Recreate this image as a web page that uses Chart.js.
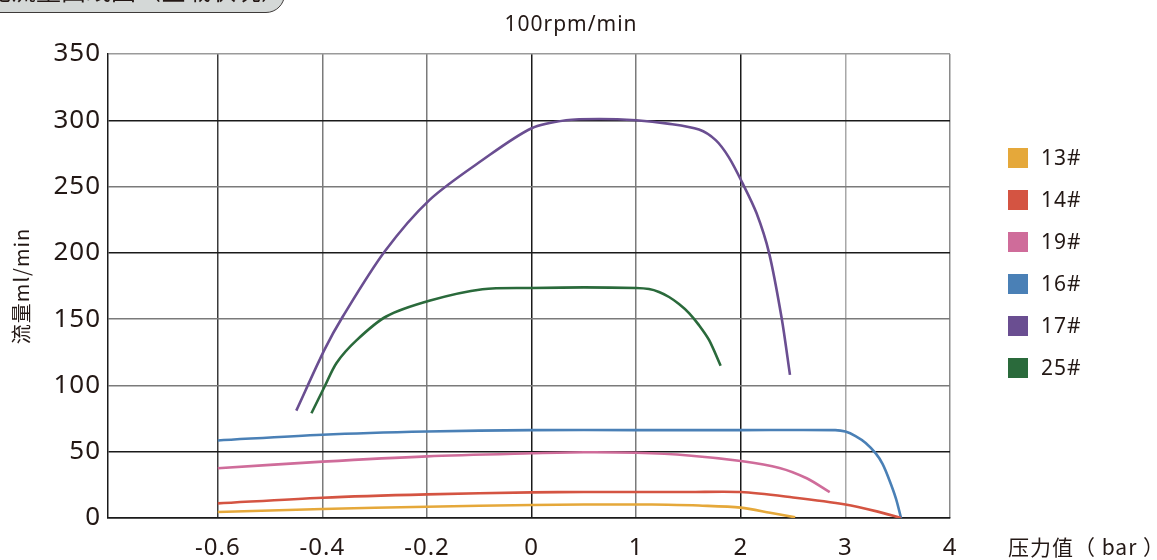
<!DOCTYPE html>
<html>
<head>
<meta charset="utf-8">
<script src="https://cdn.jsdelivr.net/npm/chart.js@4.4.1/dist/chart.umd.min.js"></script>
<style>
  html, body { margin: 0; padding: 0; background: #ffffff; overflow: hidden; }
  #wrap { position: relative; width: 1157px; height: 560px; }
  #chart { position: absolute; left: 0; top: 0; width: 1157px; height: 560px; }
  #heading {
    position: absolute; left: -40px; top: -25px; width: 325px; height: 38px;
    background: #d4d8d7; border: 1.5px solid #3e3a39; border-radius: 0 20px 20px 0;
    box-sizing: border-box; overflow: hidden; z-index: 2;
    font-family: "Noto Sans CJK SC", sans-serif; font-size: 25px; color: #231815;
    white-space: nowrap; text-align: right; padding-right: 12px; line-height: 27px;
  }
</style>
</head>
<body>
<div id="wrap">
  <div id="heading">性能流量曲线图（空载状况）</div>
  <canvas id="chart" width="1157" height="560"></canvas>
</div>
<script>
// ---- data (pressure in bar, flow in ml/min) ----
const seriesNames = ['13#', '14#', '19#', '16#', '17#', '25#'];
const seriesColors = ['#e5a83a', '#d45442', '#cf6c9a', '#4a80b6', '#6a4e91', '#2a6a3b'];

const p13 = [-0.6, -0.4, -0.2, 0, 0.5, 1, 1.3, 1.6, 2.0, 2.28, 2.52];
const q13 = [4.5, 6.8, 8.5, 9.8, 10.2, 10.2, 10.0, 9.4, 7.8, 4.0, 0.5];

const p14 = [-0.6, -0.4, -0.2, 0, 0.5, 1, 1.5, 2.0, 2.5, 3.0, 3.3, 3.53];
const q14 = [11, 15.3, 17.8, 19.3, 19.6, 19.6, 19.6, 19.6, 15.5, 10.2, 5.0, 0];

const p19 = [-0.6, -0.4, -0.2, 0, 0.5, 1, 1.5, 2.0, 2.37, 2.63, 2.85];
const q19 = [37.5, 42.5, 46.5, 48.8, 49.6, 49.2, 47.2, 43.0, 37.8, 30.0, 19.5];

const p16 = [-0.6, -0.4, -0.2, 0, 1, 2, 2.903, 3.0, 3.097, 3.194, 3.29, 3.355, 3.419, 3.484, 3.532];
const q16 = [58.5, 62.8, 65.2, 66.3, 66.3, 66.3, 66.3, 65.2, 61.8, 56.6, 48.7, 40.8, 28.9, 14.5, 0];

const p17 = [-0.45, -0.396, -0.361, -0.281, -0.195, -0.094, 0, 0.33, 0.65, 1.0, 1.3, 1.6, 1.76, 1.886, 2.02, 2.15, 2.27, 2.39, 2.47];
const q17 = [81, 127, 152, 201, 240, 270, 294, 300, 301, 300, 297.5, 293, 285, 272, 252, 230, 200, 151, 108];

const p25 = [-0.421, -0.396, -0.373, -0.335, -0.278, -0.194, -0.094, 0, 0.5, 1.0, 1.122, 1.218, 1.314, 1.409, 1.505, 1.60, 1.696, 1.807];
const q25 = [79, 99, 117, 134, 152, 164, 172.5, 173.5, 174, 173.5, 172.7, 170.5, 166.7, 161.4, 154.6, 145.5, 134.3, 114.9];

const xTickLabels = ['-0.6', '-0.4', '-0.2', '0', '1', '2', '3', '4'];
const yTickStep = 50;
const yMax = 350;

const chartTitle = '100rpm/min';
const yTitle = '流量ml/min';
const xTitle = '压力值（ bar ）';

// The printed axis uses 0.2 bar steps below zero and 1 bar steps above zero.
function toPos(p) { return p < 0 ? 4 + p / 0.2 : 4 + p; }

const pList = [p13, p14, p19, p16, p17, p25];
const qList = [q13, q14, q19, q16, q17, q25];

const datasets = seriesNames.map((name, i) => ({
  label: name,
  data: pList[i].map((p, j) => ({ x: toPos(p), y: qList[i][j] })),
  borderColor: seriesColors[i],
  backgroundColor: seriesColors[i],
  borderWidth: 2.6,
  pointRadius: 0,
  tension: 0.3,
  fill: false
}));

const NUM_FONT = '"Noto Sans", "Noto Sans CJK SC", sans-serif';
const CJK_FONT = '"Noto Sans CJK SC", sans-serif';
const TEXT = '#231815';

const vGridColors = { 1: '#3a3a3a', 2: '#7a7a7a', 3: '#7a7a7a', 4: '#1a1a1a', 5: '#7a7a7a', 6: '#1a1a1a', 7: '#a8a8a8', 8: '#8a8a8a' };
const hGridColors = { 0: '#1a1a1a', 50: '#1a1a1a', 100: '#7a7a7a', 150: '#7a7a7a', 200: '#1a1a1a', 250: '#7a7a7a', 300: '#1a1a1a', 350: '#9a9a9a' };

const extras = {
  id: 'extras',
  beforeDraw(chart) {
    chart.ctx.letterSpacing = '1px';
  },
  afterDraw(chart) {
    const ctx = chart.ctx;
    ctx.save();
    ctx.letterSpacing = '1px';
    ctx.fillStyle = TEXT;
    ctx.textBaseline = 'middle';
    // chart title
    ctx.textAlign = 'center';
    ctx.font = '21px ' + NUM_FONT;
    ctx.fillText(chartTitle, 571, 25);
    // x axis title at right
    ctx.textAlign = 'left';
    ctx.font = '21px ' + CJK_FONT;
    ctx.fillText(xTitle, 1008, 547);
    // legend
    const ds = chart.data.datasets;
    const x0 = 1008, y0 = 158, step = 42, box = 20;
    ctx.font = '21px ' + NUM_FONT;
    ds.forEach((d, i) => {
      const yc = y0 + i * step;
      ctx.fillStyle = d.borderColor;
      ctx.fillRect(x0, yc - box / 2, box, box);
      ctx.fillStyle = TEXT;
      ctx.fillText(d.label, x0 + 33, yc + 1);
    });
    ctx.restore();
  }
};

new Chart(document.getElementById('chart'), {
  type: 'line',
  data: { datasets },
  plugins: [extras],
  options: {
    responsive: false,
    animation: false,
    devicePixelRatio: 1,
    layout: { padding: { left: 0, right: 207, top: 54, bottom: 0 } },
    plugins: {
      legend: { display: false },
      tooltip: { enabled: false },
      title: { display: false }
    },
    scales: {
      x: {
        type: 'linear',
        min: -0.05,
        max: 8,
        afterBuildTicks(scale) {
          scale.ticks = xTickLabels.map((_, i) => ({ value: i + 1 }));
        },
        afterFit(scale) { scale.height = 42; },
        ticks: {
          callback: (v) => xTickLabels[Math.round(v) - 1] ?? '',
          color: TEXT,
          font: { family: NUM_FONT, size: 24 },
          padding: 16,
          maxRotation: 0,
          autoSkip: false
        },
        grid: {
          drawTicks: false,
          lineWidth: 1.5,
          color: (c) => vGridColors[c.tick ? c.tick.value : 0] || '#7a7a7a'
        },
        border: { display: true, color: '#1a1a1a', width: 1.5 }
      },
      y: {
        min: 0,
        max: yMax,
        ticks: {
          stepSize: yTickStep,
          color: TEXT,
          font: { family: NUM_FONT, size: 26 },
          padding: 7
        },
        afterFit(scale) { scale.width = 108; },
        grid: {
          drawTicks: false,
          lineWidth: 1.5,
          color: (c) => hGridColors[c.tick ? c.tick.value : 0] || '#7a7a7a'
        },
        border: { display: true, color: '#1a1a1a', width: 1.5 },
        title: {
          display: true,
          text: yTitle,
          color: TEXT,
          font: { family: CJK_FONT, size: 20 },
          padding: { top: 9, bottom: 0 }
        }
      }
    }
  }
});
</script>
</body>
</html>
